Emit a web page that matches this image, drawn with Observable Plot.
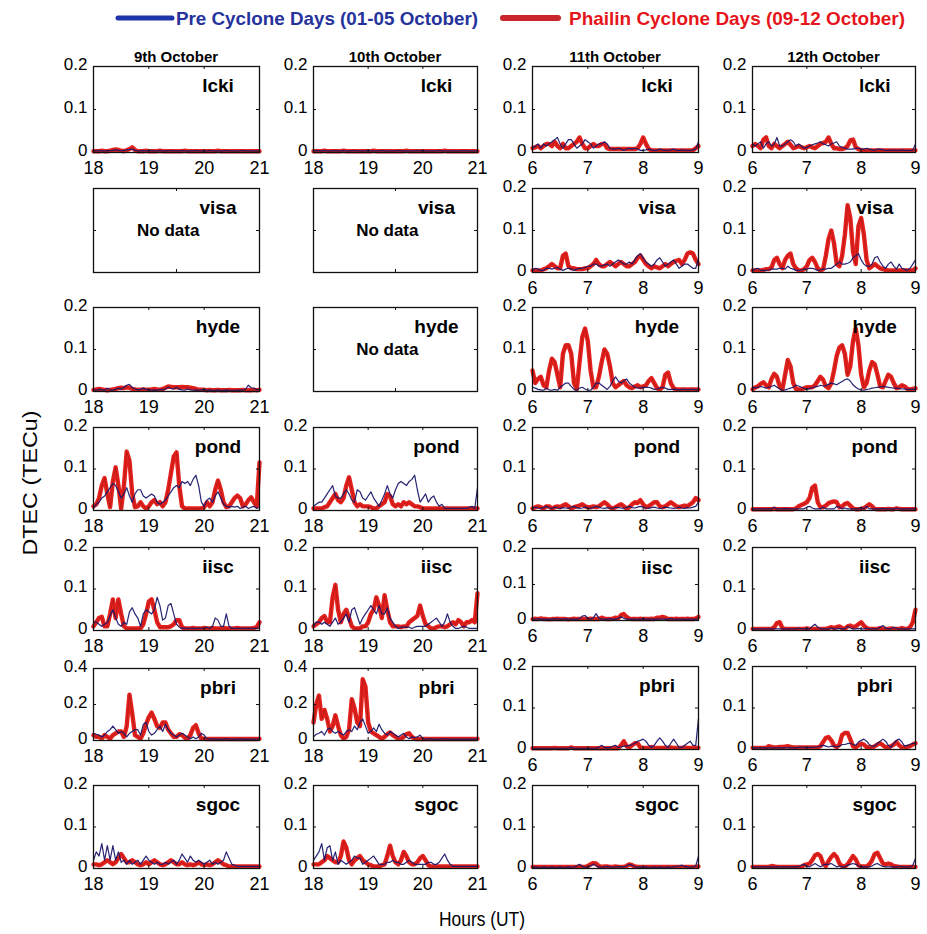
<!DOCTYPE html>
<html><head><meta charset="utf-8">
<script src="https://cdn.jsdelivr.net/npm/d3@7"></script>
<script src="https://cdn.jsdelivr.net/npm/@observablehq/plot@0.6"></script>
<style>
body{margin:0;background:#fff;}
#fig{position:relative;width:927px;height:934px;overflow:hidden;font-family:"Liberation Sans",Arial,sans-serif;}
#fig svg{position:absolute;}
</style></head><body><div id="fig"></div>
<script>
// ---------- categories & ticks ----------
const days = ["9th October", "10th October", "11th October", "12th October"];
const stations = ["lcki", "visa", "hyde", "pond", "iisc", "pbri", "sgoc"];
const eveningTicks = [18, 19, 20, 21];
const morningTicks = [6, 7, 8, 9];
const dtecTicks = [0, 0.1, 0.2];
const dtecTicksWide = [0, 0.2, 0.4];
// sampling grid: one sample every 0.05 h (3 min)
const eveningHours = d3.range(61).map(i => 18 + i * 0.05);
const morningHours = d3.range(61).map(i => 6 + i * 0.05);

// ---------- DTEC values (TECu); pre = Pre Cyclone Days, phl = Phailin Cyclone Days ----------
// 9th October (18-21 UT)
const d9_lcki_pre = [0.004,0.004,0.005,0.004,0.004,0.005,0.004,0.005,0.006,0.005,0.004,0.005,0.006,0.007,0.008,0.005,0.004,0.004,0.005,0.004,0.004,0.005,0.004,0.004,0.005,0.004,0.004,0.004,0.005,0.004,0.004,0.004,0.005,0.004,0.004,0.004,0.004,0.005,0.004,0.004,0.004,0.004,0.005,0.004,0.004,0.004,0.004,0.004,0.005,0.004,0.004,0.004,0.004,0.004,0.005,0.004,0.004,0.004,0.004,0.004,0.004];
const d9_lcki_phl = [0.003,0.003,0.003,0.004,0.003,0.003,0.004,0.006,0.007,0.006,0.004,0.003,0.005,0.008,0.012,0.006,0.003,0.003,0.003,0.004,0.003,0.003,0.003,0.003,0.004,0.003,0.003,0.003,0.003,0.003,0.003,0.003,0.003,0.004,0.003,0.003,0.003,0.003,0.003,0.003,0.003,0.003,0.003,0.003,0.003,0.004,0.003,0.003,0.003,0.003,0.003,0.003,0.003,0.003,0.003,0.003,0.003,0.003,0.003,0.003,0.003];
const d9_hyde_pre = [0.004,0.003,0.005,0.004,0.003,0.008,0.004,0.003,0.005,0.008,0.005,0.01,0.015,0.017,0.01,0.006,0.004,0.005,0.008,0.005,0.004,0.003,0.004,0.003,0.005,0.004,0.006,0.01,0.007,0.006,0.01,0.005,0.004,0.003,0.006,0.004,0.003,0.004,0.003,0.004,0.005,0.003,0.004,0.003,0.003,0.004,0.003,0.003,0.004,0.003,0.003,0.003,0.003,0.004,0.003,0.006,0.015,0.009,0.008,0.004,0.006];
const d9_hyde_phl = [0.004,0.005,0.006,0.005,0.004,0.003,0.004,0.005,0.006,0.008,0.009,0.008,0.01,0.009,0.006,0.005,0.004,0.004,0.005,0.004,0.004,0.005,0.006,0.005,0.004,0.006,0.009,0.012,0.011,0.01,0.01,0.01,0.011,0.01,0.01,0.009,0.008,0.006,0.004,0.004,0.004,0.003,0.004,0.003,0.003,0.004,0.003,0.003,0.003,0.004,0.003,0.003,0.003,0.003,0.004,0.003,0.003,0.003,0.004,0.003,0.004];
const d9_pond_pre = [0.005,0.015,0.02,0.03,0.035,0.045,0.055,0.065,0.06,0.045,0.03,0.04,0.055,0.035,0.02,0.04,0.05,0.05,0.035,0.03,0.035,0.04,0.035,0.02,0.015,0.02,0.025,0.035,0.045,0.055,0.06,0.055,0.07,0.065,0.07,0.06,0.075,0.085,0.06,0.02,0.01,0.025,0.03,0.02,0.035,0.045,0.03,0.015,0.01,0.008,0.01,0.008,0.01,0.005,0.008,0.01,0.005,0.008,0.01,0.005,0.008];
const d9_pond_phl = [0.01,0.015,0.03,0.06,0.078,0.04,0.008,0.07,0.104,0.06,0.004,0.06,0.142,0.12,0.04,0.008,0.01,0.02,0.01,0.005,0.01,0.02,0.025,0.015,0.02,0.01,0.02,0.05,0.09,0.13,0.14,0.06,0.01,0.005,0.005,0.005,0.005,0.005,0.005,0.005,0.008,0.02,0.01,0.02,0.05,0.072,0.05,0.02,0.008,0.01,0.02,0.03,0.036,0.03,0.01,0.015,0.025,0.032,0.02,0.01,0.116];
const d9_iisc_pre = [0.02,0.02,0.015,0.01,0.015,0.02,0.035,0.05,0.03,0.015,0.01,0.02,0.015,0.045,0.055,0.04,0.03,0.01,0.04,0.05,0.045,0.04,0.05,0.08,0.06,0.025,0.03,0.06,0.065,0.04,0.015,0.008,0.005,0.006,0.005,0.006,0.005,0.005,0.006,0.005,0.006,0.008,0.005,0.01,0.03,0.025,0.01,0.01,0.04,0.01,0.005,0.006,0.005,0.005,0.006,0.005,0.005,0.006,0.005,0.005,0.006];
const d9_iisc_phl = [0.01,0.02,0.03,0.033,0.01,0.01,0.04,0.075,0.03,0.075,0.04,0.01,0.005,0.005,0.005,0.005,0.005,0.005,0.015,0.04,0.07,0.075,0.05,0.02,0.008,0.008,0.008,0.008,0.01,0.015,0.025,0.025,0.008,0.005,0.005,0.005,0.006,0.005,0.005,0.005,0.006,0.005,0.005,0.006,0.005,0.005,0.005,0.006,0.005,0.005,0.005,0.005,0.006,0.005,0.005,0.005,0.005,0.005,0.006,0.008,0.02];
const d9_pbri_pre = [0.04,0.035,0.03,0.02,0.03,0.05,0.06,0.08,0.06,0.04,0.05,0.04,0.02,0.04,0.05,0.06,0.06,0.03,0.09,0.1,0.05,0.03,0.04,0.06,0.08,0.05,0.09,0.06,0.04,0.03,0.02,0.03,0.04,0.03,0.02,0.01,0.02,0.01,0.02,0.04,0.03,0.01,0.008,0.008,0.01,0.008,0.008,0.008,0.01,0.008,0.008,0.008,0.008,0.01,0.008,0.008,0.008,0.008,0.008,0.008,0.01];
const d9_pbri_phl = [0.03,0.02,0.02,0.01,0.03,0.02,0.01,0.03,0.04,0.05,0.05,0.02,0.08,0.255,0.15,0.03,0.02,0.01,0.04,0.09,0.13,0.155,0.12,0.08,0.07,0.1,0.1,0.06,0.04,0.02,0.02,0.035,0.03,0.015,0.01,0.03,0.07,0.085,0.04,0.01,0.01,0.008,0.008,0.008,0.008,0.008,0.008,0.008,0.008,0.008,0.008,0.008,0.008,0.008,0.008,0.008,0.008,0.008,0.008,0.008,0.01];
const d9_sgoc_pre = [0.02,0.04,0.03,0.06,0.02,0.055,0.02,0.055,0.02,0.04,0.015,0.02,0.01,0.02,0.01,0.015,0.02,0.01,0.02,0.03,0.02,0.015,0.01,0.015,0.01,0.01,0.015,0.01,0.015,0.02,0.01,0.02,0.035,0.025,0.015,0.03,0.02,0.015,0.02,0.015,0.01,0.015,0.02,0.01,0.015,0.01,0.015,0.02,0.04,0.025,0.01,0.008,0.005,0.005,0.005,0.005,0.005,0.005,0.005,0.005,0.005];
const d9_sgoc_phl = [0.01,0.01,0.008,0.01,0.015,0.02,0.015,0.01,0.015,0.025,0.035,0.025,0.015,0.015,0.02,0.015,0.01,0.008,0.01,0.015,0.01,0.015,0.02,0.015,0.01,0.008,0.01,0.015,0.02,0.015,0.01,0.01,0.015,0.01,0.008,0.01,0.008,0.01,0.015,0.01,0.008,0.01,0.008,0.01,0.015,0.02,0.015,0.01,0.008,0.005,0.005,0.005,0.005,0.005,0.005,0.005,0.005,0.005,0.005,0.005,0.005];

// 10th October (18-21 UT)
const d10_lcki_pre = [0.004,0.005,0.004,0.004,0.005,0.004,0.004,0.004,0.005,0.004,0.004,0.005,0.004,0.004,0.004,0.005,0.004,0.004,0.004,0.004,0.005,0.004,0.004,0.004,0.004,0.005,0.004,0.004,0.004,0.004,0.004,0.005,0.004,0.004,0.004,0.004,0.004,0.004,0.005,0.004,0.004,0.004,0.004,0.004,0.004,0.004,0.005,0.004,0.004,0.004,0.004,0.004,0.004,0.004,0.004,0.005,0.004,0.004,0.004,0.004,0.004];
const d10_lcki_phl = [0.003,0.003,0.003,0.003,0.004,0.003,0.003,0.003,0.003,0.003,0.003,0.004,0.003,0.003,0.003,0.003,0.003,0.003,0.003,0.003,0.003,0.003,0.004,0.003,0.003,0.003,0.003,0.003,0.003,0.003,0.003,0.003,0.003,0.003,0.004,0.003,0.003,0.003,0.003,0.003,0.003,0.003,0.003,0.003,0.003,0.003,0.003,0.003,0.004,0.003,0.003,0.003,0.003,0.003,0.003,0.003,0.003,0.003,0.003,0.003,0.003];
const d10_pond_pre = [0.01,0.015,0.02,0.02,0.03,0.04,0.05,0.06,0.035,0.03,0.03,0.04,0.05,0.04,0.025,0.02,0.05,0.045,0.03,0.025,0.035,0.045,0.03,0.02,0.01,0.025,0.04,0.06,0.04,0.03,0.05,0.065,0.07,0.065,0.06,0.07,0.075,0.085,0.05,0.02,0.03,0.04,0.02,0.03,0.035,0.02,0.01,0.015,0.005,0.005,0.005,0.005,0.005,0.005,0.005,0.005,0.005,0.008,0.01,0.005,0.055];
const d10_pond_phl = [0.005,0.005,0.005,0.005,0.008,0.01,0.02,0.03,0.04,0.025,0.02,0.03,0.06,0.08,0.05,0.02,0.01,0.015,0.01,0.01,0.01,0.008,0.005,0.005,0.01,0.015,0.02,0.04,0.035,0.015,0.01,0.015,0.01,0.02,0.015,0.02,0.015,0.01,0.01,0.008,0.005,0.005,0.005,0.005,0.005,0.005,0.005,0.005,0.005,0.005,0.005,0.005,0.005,0.005,0.005,0.005,0.005,0.005,0.005,0.005,0.005];
const d10_iisc_pre = [0.01,0.02,0.02,0.015,0.02,0.015,0.01,0.02,0.03,0.015,0.02,0.03,0.04,0.02,0.05,0.055,0.035,0.015,0.03,0.04,0.05,0.06,0.05,0.04,0.06,0.04,0.04,0.055,0.03,0.02,0.01,0.005,0.008,0.008,0.008,0.008,0.005,0.008,0.01,0.01,0.01,0.01,0.015,0.02,0.025,0.03,0.02,0.01,0.02,0.04,0.02,0.01,0.005,0.005,0.008,0.01,0.008,0.005,0.005,0.005,0.005];
const d10_iisc_phl = [0.01,0.015,0.02,0.03,0.035,0.02,0.02,0.08,0.11,0.05,0.02,0.04,0.05,0.03,0.01,0.005,0.005,0.005,0.01,0.01,0.02,0.04,0.05,0.08,0.06,0.03,0.085,0.05,0.02,0.01,0.01,0.01,0.008,0.01,0.01,0.02,0.025,0.03,0.035,0.06,0.035,0.015,0.01,0.005,0.005,0.008,0.01,0.01,0.008,0.01,0.015,0.02,0.015,0.025,0.02,0.01,0.02,0.02,0.025,0.02,0.09];
const d10_pbri_pre = [0.02,0.035,0.04,0.05,0.03,0.06,0.07,0.05,0.04,0.05,0.04,0.03,0.05,0.06,0.05,0.08,0.06,0.1,0.12,0.08,0.04,0.05,0.07,0.05,0.09,0.06,0.04,0.03,0.05,0.04,0.03,0.02,0.03,0.04,0.02,0.01,0.02,0.015,0.02,0.03,0.01,0.008,0.008,0.01,0.008,0.008,0.008,0.008,0.01,0.008,0.008,0.008,0.008,0.008,0.008,0.008,0.008,0.008,0.008,0.008,0.01];
const d10_pbri_phl = [0.1,0.2,0.25,0.12,0.17,0.12,0.05,0.08,0.14,0.08,0.03,0.01,0.02,0.06,0.23,0.18,0.1,0.08,0.34,0.3,0.1,0.05,0.04,0.03,0.02,0.01,0.02,0.035,0.045,0.03,0.02,0.01,0.01,0.02,0.035,0.04,0.02,0.01,0.008,0.008,0.008,0.008,0.008,0.008,0.008,0.008,0.008,0.008,0.008,0.008,0.008,0.008,0.008,0.008,0.008,0.008,0.008,0.008,0.008,0.008,0.01];
const d10_sgoc_pre = [0.02,0.03,0.04,0.06,0.02,0.05,0.055,0.02,0.04,0.01,0.02,0.015,0.01,0.015,0.02,0.03,0.025,0.025,0.01,0.015,0.02,0.025,0.03,0.02,0.01,0.01,0.01,0.015,0.015,0.02,0.015,0.015,0.01,0.01,0.015,0.02,0.015,0.01,0.01,0.01,0.01,0.01,0.015,0.015,0.01,0.01,0.015,0.025,0.035,0.02,0.01,0.005,0.005,0.005,0.005,0.005,0.005,0.005,0.005,0.005,0.005];
const d10_sgoc_phl = [0.01,0.01,0.01,0.015,0.02,0.03,0.025,0.02,0.015,0.015,0.03,0.065,0.05,0.02,0.01,0.02,0.025,0.03,0.02,0.015,0.01,0.008,0.005,0.005,0.005,0.008,0.01,0.03,0.055,0.03,0.015,0.01,0.02,0.04,0.03,0.015,0.01,0.01,0.015,0.025,0.03,0.02,0.008,0.005,0.005,0.005,0.005,0.005,0.005,0.005,0.005,0.005,0.005,0.005,0.005,0.005,0.005,0.005,0.005,0.005,0.005];

// 11th October (6-9 UT)
const d11_lcki_pre = [0.01,0.015,0.02,0.01,0.02,0.015,0.02,0.025,0.03,0.035,0.02,0.01,0.02,0.03,0.03,0.02,0.01,0.015,0.02,0.03,0.025,0.02,0.01,0.015,0.02,0.02,0.025,0.02,0.01,0.008,0.008,0.01,0.008,0.005,0.008,0.01,0.008,0.01,0.008,0.005,0.005,0.006,0.008,0.006,0.005,0.005,0.008,0.006,0.005,0.005,0.006,0.008,0.005,0.005,0.006,0.005,0.005,0.005,0.006,0.008,0.025];
const d11_lcki_phl = [0.01,0.012,0.015,0.01,0.015,0.02,0.02,0.015,0.025,0.015,0.01,0.02,0.01,0.01,0.015,0.02,0.025,0.035,0.02,0.01,0.01,0.015,0.02,0.015,0.015,0.02,0.02,0.01,0.008,0.008,0.008,0.008,0.008,0.008,0.008,0.008,0.008,0.008,0.01,0.02,0.035,0.02,0.008,0.005,0.005,0.005,0.005,0.005,0.005,0.005,0.005,0.005,0.005,0.005,0.005,0.005,0.005,0.005,0.005,0.01,0.015];
const d11_visa_pre = [0.005,0.01,0.008,0.005,0.005,0.01,0.01,0.008,0.01,0.012,0.008,0.005,0.008,0.01,0.008,0.005,0.008,0.01,0.01,0.012,0.015,0.015,0.02,0.02,0.015,0.015,0.018,0.02,0.015,0.02,0.025,0.03,0.025,0.02,0.02,0.025,0.02,0.03,0.04,0.045,0.035,0.025,0.02,0.015,0.02,0.03,0.035,0.025,0.015,0.02,0.025,0.03,0.02,0.01,0.015,0.02,0.02,0.015,0.01,0.01,0.035];
const d11_visa_phl = [0.005,0.005,0.005,0.005,0.008,0.01,0.015,0.02,0.015,0.01,0.01,0.04,0.045,0.015,0.01,0.01,0.008,0.008,0.008,0.01,0.01,0.015,0.02,0.03,0.02,0.015,0.015,0.02,0.025,0.02,0.015,0.02,0.025,0.02,0.015,0.015,0.02,0.025,0.035,0.04,0.03,0.02,0.015,0.01,0.015,0.012,0.01,0.015,0.02,0.015,0.02,0.025,0.028,0.03,0.02,0.03,0.045,0.048,0.045,0.03,0.02];
const d11_hyde_pre = [0.01,0.008,0.005,0.004,0.003,0.008,0.004,0.003,0.005,0.003,0.01,0.015,0.02,0.02,0.012,0.005,0.003,0.008,0.01,0.006,0.003,0.003,0.01,0.02,0.02,0.015,0.01,0.005,0.012,0.025,0.035,0.025,0.02,0.025,0.03,0.02,0.015,0.01,0.008,0.008,0.01,0.01,0.01,0.008,0.005,0.006,0.008,0.01,0.008,0.005,0.005,0.005,0.005,0.004,0.005,0.005,0.004,0.005,0.005,0.004,0.005];
const d11_hyde_phl = [0.05,0.02,0.03,0.035,0.015,0.01,0.05,0.078,0.07,0.04,0.01,0.09,0.11,0.11,0.09,0.02,0.005,0.07,0.13,0.15,0.12,0.05,0.01,0.01,0.035,0.07,0.1,0.09,0.06,0.02,0.01,0.015,0.02,0.025,0.015,0.01,0.008,0.012,0.015,0.01,0.012,0.015,0.025,0.032,0.02,0.008,0.005,0.01,0.04,0.045,0.02,0.008,0.005,0.005,0.005,0.005,0.005,0.005,0.005,0.005,0.005];
const d11_pond_pre = [0.005,0.008,0.006,0.005,0.007,0.01,0.006,0.005,0.008,0.006,0.005,0.007,0.006,0.005,0.008,0.01,0.007,0.005,0.006,0.008,0.006,0.005,0.007,0.01,0.008,0.006,0.005,0.007,0.006,0.005,0.008,0.007,0.006,0.005,0.008,0.01,0.007,0.006,0.008,0.01,0.008,0.006,0.005,0.007,0.008,0.006,0.005,0.006,0.008,0.007,0.006,0.005,0.006,0.008,0.006,0.005,0.007,0.006,0.008,0.01,0.02];
const d11_pond_phl = [0.005,0.008,0.01,0.008,0.005,0.01,0.01,0.005,0.008,0.01,0.008,0.012,0.015,0.01,0.005,0.008,0.01,0.012,0.015,0.01,0.008,0.008,0.01,0.008,0.01,0.015,0.02,0.015,0.008,0.005,0.008,0.012,0.015,0.01,0.005,0.008,0.015,0.02,0.018,0.025,0.015,0.008,0.01,0.015,0.02,0.02,0.01,0.008,0.01,0.015,0.02,0.015,0.01,0.008,0.01,0.012,0.01,0.015,0.02,0.03,0.025];
const d11_iisc_pre = [0.004,0.004,0.005,0.004,0.004,0.003,0.004,0.004,0.005,0.004,0.004,0.004,0.005,0.004,0.004,0.004,0.004,0.005,0.012,0.014,0.006,0.004,0.008,0.019,0.006,0.004,0.004,0.004,0.005,0.004,0.004,0.006,0.01,0.006,0.004,0.004,0.004,0.004,0.004,0.004,0.005,0.004,0.004,0.004,0.004,0.004,0.004,0.004,0.004,0.004,0.006,0.004,0.004,0.004,0.004,0.004,0.004,0.004,0.004,0.004,0.005];
const d11_iisc_phl = [0.004,0.005,0.004,0.006,0.004,0.004,0.003,0.004,0.004,0.005,0.004,0.004,0.004,0.003,0.004,0.005,0.004,0.004,0.004,0.004,0.004,0.005,0.004,0.004,0.004,0.008,0.005,0.004,0.004,0.005,0.008,0.006,0.015,0.018,0.01,0.005,0.004,0.004,0.004,0.005,0.004,0.004,0.004,0.005,0.004,0.008,0.008,0.01,0.008,0.004,0.004,0.004,0.005,0.004,0.004,0.004,0.005,0.004,0.004,0.006,0.01];
const d11_pbri_pre = [0.003,0.003,0.003,0.003,0.003,0.003,0.003,0.003,0.003,0.003,0.003,0.003,0.003,0.003,0.005,0.003,0.003,0.003,0.003,0.003,0.003,0.003,0.003,0.003,0.006,0.01,0.005,0.004,0.005,0.008,0.01,0.005,0.006,0.008,0.008,0.01,0.012,0.015,0.02,0.022,0.025,0.02,0.01,0.005,0.01,0.02,0.028,0.02,0.01,0.005,0.015,0.025,0.015,0.005,0.005,0.01,0.015,0.02,0.01,0.01,0.075];
const d11_pbri_phl = [0.003,0.003,0.003,0.003,0.003,0.003,0.003,0.003,0.004,0.003,0.003,0.003,0.003,0.003,0.005,0.003,0.003,0.003,0.003,0.003,0.003,0.003,0.003,0.003,0.003,0.003,0.003,0.003,0.003,0.003,0.003,0.003,0.01,0.02,0.008,0.005,0.01,0.015,0.015,0.005,0.004,0.004,0.004,0.006,0.004,0.004,0.004,0.004,0.004,0.004,0.005,0.004,0.004,0.004,0.004,0.005,0.004,0.004,0.004,0.004,0.004];
const d11_sgoc_pre = [0.003,0.004,0.003,0.003,0.004,0.003,0.003,0.004,0.003,0.003,0.004,0.003,0.003,0.004,0.003,0.004,0.006,0.01,0.005,0.003,0.004,0.006,0.01,0.006,0.004,0.003,0.004,0.005,0.004,0.003,0.004,0.005,0.004,0.004,0.006,0.01,0.008,0.004,0.003,0.004,0.003,0.004,0.003,0.003,0.004,0.003,0.004,0.003,0.003,0.004,0.003,0.004,0.005,0.006,0.008,0.005,0.004,0.003,0.004,0.006,0.03];
const d11_sgoc_phl = [0.004,0.004,0.004,0.004,0.004,0.004,0.004,0.004,0.004,0.004,0.004,0.004,0.004,0.004,0.004,0.004,0.004,0.005,0.004,0.004,0.006,0.01,0.013,0.012,0.006,0.004,0.005,0.005,0.004,0.004,0.005,0.004,0.004,0.004,0.006,0.01,0.008,0.005,0.004,0.004,0.004,0.004,0.004,0.004,0.004,0.004,0.004,0.004,0.004,0.004,0.004,0.004,0.004,0.004,0.004,0.004,0.004,0.004,0.004,0.004,0.005];

// 12th October (6-9 UT)
const d12_lcki_pre = [0.02,0.015,0.02,0.025,0.01,0.02,0.025,0.015,0.02,0.035,0.015,0.015,0.02,0.025,0.03,0.025,0.015,0.02,0.015,0.01,0.012,0.015,0.018,0.02,0.022,0.025,0.02,0.018,0.015,0.02,0.022,0.025,0.015,0.012,0.01,0.008,0.008,0.008,0.01,0.01,0.008,0.008,0.01,0.008,0.006,0.005,0.008,0.008,0.006,0.005,0.005,0.006,0.005,0.005,0.005,0.006,0.005,0.005,0.005,0.005,0.02];
const d12_lcki_phl = [0.015,0.02,0.015,0.01,0.03,0.035,0.015,0.01,0.02,0.015,0.01,0.015,0.02,0.025,0.018,0.01,0.012,0.015,0.012,0.01,0.012,0.015,0.012,0.01,0.015,0.02,0.022,0.025,0.035,0.02,0.01,0.01,0.008,0.008,0.01,0.015,0.028,0.03,0.012,0.008,0.005,0.005,0.005,0.005,0.005,0.005,0.005,0.005,0.005,0.005,0.005,0.005,0.005,0.005,0.005,0.005,0.005,0.005,0.005,0.005,0.005];
const d12_visa_pre = [0.005,0.008,0.01,0.005,0.005,0.005,0.006,0.008,0.008,0.008,0.01,0.01,0.008,0.015,0.01,0.008,0.005,0.005,0.006,0.008,0.008,0.01,0.01,0.008,0.005,0.006,0.008,0.008,0.01,0.01,0.015,0.02,0.025,0.02,0.02,0.022,0.025,0.035,0.04,0.045,0.03,0.02,0.015,0.015,0.02,0.035,0.038,0.025,0.015,0.01,0.02,0.025,0.015,0.008,0.02,0.01,0.008,0.005,0.01,0.02,0.03];
const d12_visa_phl = [0.005,0.005,0.005,0.005,0.006,0.008,0.008,0.012,0.03,0.035,0.02,0.01,0.03,0.04,0.045,0.02,0.01,0.005,0.005,0.008,0.015,0.03,0.035,0.025,0.01,0.005,0.008,0.04,0.08,0.1,0.07,0.02,0.015,0.04,0.09,0.16,0.13,0.05,0.02,0.11,0.13,0.09,0.03,0.01,0.015,0.02,0.015,0.01,0.008,0.006,0.005,0.005,0.005,0.005,0.005,0.005,0.005,0.005,0.005,0.005,0.01];
const d12_hyde_pre = [0.01,0.008,0.01,0.012,0.01,0.008,0.01,0.012,0.015,0.01,0.006,0.003,0.004,0.006,0.008,0.01,0.015,0.013,0.01,0.007,0.005,0.007,0.009,0.011,0.012,0.015,0.013,0.014,0.017,0.02,0.018,0.016,0.02,0.024,0.028,0.03,0.025,0.016,0.01,0.006,0.004,0.003,0.005,0.006,0.008,0.009,0.01,0.011,0.012,0.011,0.01,0.009,0.008,0.008,0.007,0.006,0.006,0.005,0.005,0.005,0.005];
const d12_hyde_phl = [0.005,0.01,0.012,0.018,0.022,0.015,0.01,0.03,0.042,0.035,0.012,0.005,0.04,0.075,0.06,0.02,0.006,0.005,0.005,0.008,0.01,0.01,0.01,0.015,0.025,0.035,0.028,0.012,0.008,0.02,0.05,0.085,0.105,0.11,0.09,0.04,0.06,0.12,0.15,0.11,0.04,0.01,0.02,0.05,0.07,0.065,0.04,0.012,0.01,0.025,0.04,0.035,0.02,0.008,0.01,0.015,0.012,0.006,0.005,0.006,0.008];
const d12_pond_pre = [0.004,0.004,0.004,0.004,0.004,0.004,0.004,0.004,0.008,0.004,0.004,0.004,0.005,0.004,0.004,0.004,0.004,0.004,0.004,0.004,0.008,0.01,0.006,0.004,0.004,0.004,0.008,0.004,0.004,0.004,0.004,0.01,0.008,0.004,0.006,0.004,0.004,0.004,0.004,0.004,0.008,0.004,0.01,0.004,0.004,0.004,0.004,0.004,0.005,0.004,0.004,0.004,0.004,0.006,0.004,0.004,0.004,0.004,0.004,0.004,0.004];
const d12_pond_phl = [0.003,0.003,0.003,0.003,0.003,0.003,0.003,0.003,0.004,0.003,0.003,0.003,0.003,0.003,0.003,0.003,0.005,0.01,0.013,0.016,0.02,0.03,0.055,0.06,0.02,0.008,0.008,0.012,0.018,0.02,0.022,0.02,0.008,0.01,0.016,0.018,0.012,0.005,0.003,0.003,0.004,0.006,0.01,0.015,0.01,0.004,0.003,0.003,0.003,0.003,0.004,0.003,0.003,0.005,0.004,0.003,0.003,0.003,0.003,0.003,0.003];
const d12_iisc_pre = [0.004,0.004,0.004,0.004,0.004,0.004,0.004,0.004,0.004,0.004,0.004,0.004,0.004,0.004,0.004,0.004,0.004,0.006,0.004,0.004,0.005,0.004,0.01,0.015,0.008,0.004,0.004,0.004,0.004,0.006,0.004,0.004,0.005,0.004,0.004,0.01,0.006,0.004,0.004,0.005,0.004,0.004,0.006,0.004,0.004,0.004,0.004,0.008,0.012,0.006,0.004,0.004,0.008,0.005,0.004,0.004,0.004,0.004,0.004,0.004,0.004];
const d12_iisc_phl = [0.004,0.004,0.004,0.004,0.004,0.004,0.004,0.004,0.008,0.018,0.02,0.006,0.004,0.004,0.004,0.004,0.004,0.004,0.004,0.004,0.005,0.004,0.004,0.004,0.004,0.004,0.004,0.004,0.006,0.008,0.006,0.008,0.01,0.006,0.004,0.01,0.012,0.008,0.01,0.015,0.02,0.012,0.006,0.004,0.004,0.004,0.004,0.006,0.004,0.004,0.004,0.005,0.004,0.004,0.004,0.006,0.004,0.004,0.008,0.02,0.05];
const d12_pbri_pre = [0.004,0.004,0.004,0.004,0.004,0.004,0.004,0.004,0.004,0.004,0.004,0.004,0.004,0.004,0.004,0.004,0.004,0.005,0.006,0.005,0.004,0.005,0.005,0.006,0.006,0.008,0.01,0.008,0.006,0.008,0.008,0.006,0.008,0.012,0.012,0.014,0.015,0.012,0.01,0.018,0.022,0.025,0.02,0.012,0.008,0.008,0.015,0.02,0.025,0.02,0.01,0.005,0.015,0.022,0.025,0.018,0.008,0.01,0.012,0.015,0.015];
const d12_pbri_phl = [0.004,0.004,0.004,0.004,0.004,0.004,0.008,0.006,0.005,0.005,0.006,0.006,0.007,0.008,0.006,0.005,0.005,0.005,0.005,0.005,0.005,0.005,0.005,0.005,0.005,0.008,0.018,0.028,0.03,0.022,0.01,0.006,0.012,0.035,0.04,0.04,0.025,0.008,0.005,0.01,0.014,0.012,0.006,0.005,0.005,0.008,0.012,0.015,0.01,0.006,0.005,0.008,0.012,0.018,0.01,0.005,0.005,0.006,0.008,0.012,0.015];
const d12_sgoc_pre = [0.004,0.004,0.004,0.004,0.004,0.004,0.004,0.004,0.004,0.004,0.004,0.004,0.004,0.004,0.004,0.004,0.004,0.005,0.008,0.01,0.005,0.004,0.008,0.012,0.008,0.004,0.008,0.01,0.01,0.012,0.008,0.004,0.006,0.004,0.004,0.008,0.01,0.012,0.01,0.006,0.004,0.004,0.004,0.004,0.006,0.01,0.012,0.008,0.005,0.004,0.004,0.004,0.004,0.004,0.006,0.004,0.004,0.004,0.004,0.008,0.025];
const d12_sgoc_phl = [0.004,0.004,0.004,0.004,0.004,0.004,0.004,0.006,0.005,0.004,0.004,0.004,0.004,0.004,0.004,0.004,0.004,0.004,0.004,0.008,0.01,0.012,0.02,0.032,0.035,0.03,0.012,0.006,0.018,0.028,0.035,0.028,0.012,0.006,0.005,0.01,0.02,0.03,0.022,0.008,0.005,0.005,0.005,0.01,0.02,0.035,0.038,0.025,0.012,0.01,0.012,0.01,0.006,0.005,0.004,0.004,0.004,0.004,0.004,0.004,0.004];

// station -> [pre, phailin] for each day; null = no data
const dayData = [
  {lcki:[d9_lcki_pre,d9_lcki_phl], visa:null, hyde:[d9_hyde_pre,d9_hyde_phl], pond:[d9_pond_pre,d9_pond_phl], iisc:[d9_iisc_pre,d9_iisc_phl], pbri:[d9_pbri_pre,d9_pbri_phl], sgoc:[d9_sgoc_pre,d9_sgoc_phl]},
  {lcki:[d10_lcki_pre,d10_lcki_phl], visa:null, hyde:null, pond:[d10_pond_pre,d10_pond_phl], iisc:[d10_iisc_pre,d10_iisc_phl], pbri:[d10_pbri_pre,d10_pbri_phl], sgoc:[d10_sgoc_pre,d10_sgoc_phl]},
  {lcki:[d11_lcki_pre,d11_lcki_phl], visa:[d11_visa_pre,d11_visa_phl], hyde:[d11_hyde_pre,d11_hyde_phl], pond:[d11_pond_pre,d11_pond_phl], iisc:[d11_iisc_pre,d11_iisc_phl], pbri:[d11_pbri_pre,d11_pbri_phl], sgoc:[d11_sgoc_pre,d11_sgoc_phl]},
  {lcki:[d12_lcki_pre,d12_lcki_phl], visa:[d12_visa_pre,d12_visa_phl], hyde:[d12_hyde_pre,d12_hyde_phl], pond:[d12_pond_pre,d12_pond_phl], iisc:[d12_iisc_pre,d12_iisc_phl], pbri:[d12_pbri_pre,d12_pbri_phl], sgoc:[d12_sgoc_pre,d12_sgoc_phl]}
];

// ---------- layout ----------
const BLUE = "#1a186c", RED = "#e5211d", RED_CORE = "#941414";
const FONT = "Liberation Sans, Arial, sans-serif";
const M = {left: 46, right: 8, top: 4, bottom: 28};
const colL = [93, 313, 532, 752], colR = [259, 477, 698, 915];
const rowT = [66, 188, 307, 427, 547, 666, 785], rowB = [152, 272, 391, 510, 630, 749, 868];
function geometry(r, c) {
  const g = {left: colL[c], right: colR[c], top: rowT[r], bottom: rowB[r]};
  if (r === 5 && c < 2) { g.top = 668; g.bottom = 740; }
  if (r === 4 && c === 2) { g.top = 548; g.bottom = 620; }
  return g;
}

function makePanel(g, spec) {
  const W = g.right - g.left, H = g.bottom - g.top;
  const [x0, x1] = spec.xDomain, yMax = spec.yMax;
  const ty = yMax * 3 / H, tx = (x1 - x0) * 3 / W;
  const marks = [];
  if (spec.pre) {
    const pre = spec.pre.map((v, i) => ({t: spec.hours[i], v}));
    const phl = spec.phl.map((v, i) => ({t: spec.hours[i], v}));
    marks.push(
      Plot.line(phl, {x: "t", y: "v", stroke: RED, strokeWidth: 4.4, strokeLinejoin: "round"}),
      Plot.line(phl, {x: "t", y: "v", stroke: RED_CORE, strokeWidth: 0.8, strokeOpacity: 0.6}),
      Plot.line(pre, {x: "t", y: "v", stroke: BLUE, strokeWidth: 1.2, strokeOpacity: 0.95}),
      Plot.axisX({ticks: spec.xTicks, tickSize: 0, tickPadding: 9, tickFormat: d => String(d), fontSize: 18, label: null}),
      Plot.axisY({ticks: spec.yTicks, tickSize: 0, tickPadding: 6, dy: -2, tickFormat: d => String(d), fontSize: 17, label: null})
    );
  }
  marks.push(
    Plot.ruleX(spec.xTicks, {x: d => d, y1: 0, y2: ty, stroke: "#111"}),
    Plot.ruleX(spec.xTicks, {x: d => d, y1: yMax, y2: yMax - ty, stroke: "#111"}),
    Plot.ruleY(spec.yTicks, {y: d => d, x1: x0, x2: x0 + tx, stroke: "#111"}),
    Plot.ruleY(spec.yTicks, {y: d => d, x1: x1, x2: x1 - tx, stroke: "#111"}),
    Plot.frame({stroke: "#111", strokeWidth: 1.3}),
    Plot.text([spec.station], {text: d => d, frameAnchor: "top", dx: W * 0.25, dy: 19, lineAnchor: "middle", fontWeight: "bold", fontSize: 19, fill: "#000"})
  );
  if (!spec.pre) {
    marks.push(Plot.text(["No data"], {text: d => d, frameAnchor: "middle", dx: -W * 0.05, lineAnchor: "middle", fontWeight: "bold", fontSize: 17, fill: "#000"}));
  }
  const svg = Plot.plot({
    width: W + M.left + M.right, height: H + M.top + M.bottom,
    marginLeft: M.left, marginRight: M.right, marginTop: M.top, marginBottom: M.bottom,
    x: {domain: spec.xDomain, axis: null}, y: {domain: [0, yMax], axis: null},
    style: {fontFamily: FONT, fontSize: "17px", color: "#000", background: "none", overflow: "visible"},
    marks
  });
  svg.style.left = (g.left - M.left) + "px";
  svg.style.top = (g.top - M.top) + "px";
  return svg;
}

const fig = document.getElementById("fig");
const NS = "http://www.w3.org/2000/svg";

// overlay: legend, column titles, axis titles
const ov = document.createElementNS(NS, "svg");
ov.setAttribute("width", 927); ov.setAttribute("height", 934);
ov.style.left = "0px"; ov.style.top = "0px";
ov.setAttribute("font-family", FONT);
function el(tag, attrs, text) {
  const e = document.createElementNS(NS, tag);
  for (const k in attrs) e.setAttribute(k, attrs[k]);
  if (text != null) e.textContent = text;
  ov.appendChild(e); return e;
}
const legendItems = [
  {label: "Pre Cyclone Days (01-05 October)", line: [118, 172], color: "#1f34a8", text: "#26339c", tx: 176, tl: 302, w: 5},
  {label: "Phailin Cyclone Days (09-12 October)", line: [503, 558], color: "#c9272c", text: "#e5151b", tx: 569, tl: 336, w: 6}
];
legendItems.forEach(d => {
  el("line", {x1: d.line[0], x2: d.line[1], y1: 18, y2: 18, stroke: d.color, "stroke-width": d.w, "stroke-linecap": "round"});
  el("text", {x: d.tx, y: 25, fill: d.text, "font-weight": "bold", "font-size": 19, textLength: d.tl, lengthAdjust: "spacingAndGlyphs"}, d.label);
});
days.forEach((d, c) => {
  el("text", {x: (colL[c] + colR[c]) / 2, y: 62, "text-anchor": "middle", "font-weight": "bold", "font-size": 15, fill: "#000"}, d);
});
el("text", {x: 0, y: 0, transform: "translate(37,483) rotate(-90)", "text-anchor": "middle", "font-size": 21, fill: "#000", textLength: 145, lengthAdjust: "spacingAndGlyphs"}, "DTEC (TECu)");
el("text", {x: 482, y: 926, "text-anchor": "middle", "font-size": 21, fill: "#000", textLength: 86, lengthAdjust: "spacingAndGlyphs"}, "Hours (UT)");
fig.appendChild(ov);

stations.forEach((st, r) => {
  days.forEach((day, c) => {
    const pair = dayData[c][st];
    const evening = c < 2;
    const wide = st === "pbri" && evening;
    const spec = pair ? {
      station: st, pre: pair[0], phl: pair[1],
      hours: evening ? eveningHours : morningHours,
      xDomain: evening ? [18, 21] : [6, 9],
      xTicks: evening ? eveningTicks : morningTicks,
      yMax: wide ? 0.4 : 0.2,
      yTicks: wide ? dtecTicksWide : dtecTicks
    } : {station: st, pre: null, xDomain: [0, 1], xTicks: [0.5], yMax: 1, yTicks: [0.5]};
    fig.appendChild(makePanel(geometry(r, c), spec));
  });
});
</script></body></html>
